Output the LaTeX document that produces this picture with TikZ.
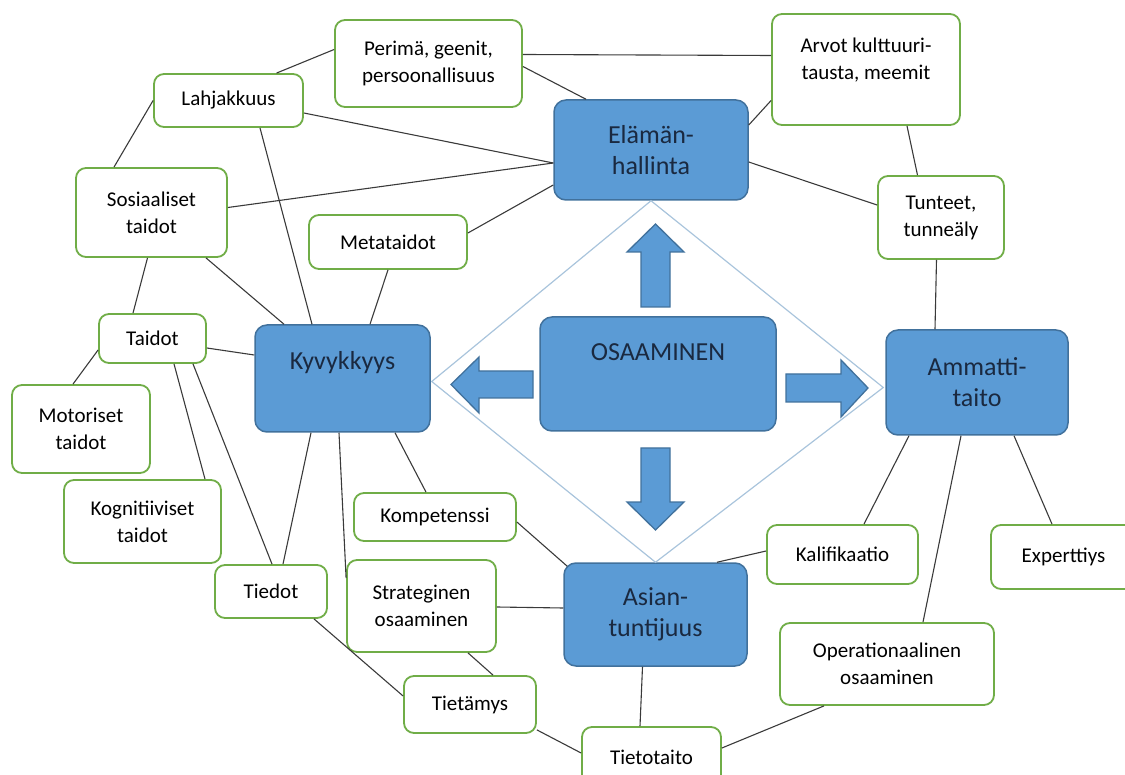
\documentclass[tikz,border=0pt]{standalone}
\usepackage{fontspec}
\setmainfont{Carlito}
\usepackage{tikz}
\usetikzlibrary{calc}
\definecolor{boxgreen}{HTML}{70AD47}
\definecolor{boxblue}{HTML}{5B9BD5}
\definecolor{boxedge}{HTML}{41719C}
\definecolor{rimblue}{HTML}{A9C4DC}
\definecolor{linkgray}{HTML}{3A3A3A}
\definecolor{bluetext}{HTML}{1A2940}

\begin{document}
\begin{tikzpicture}[x=1pt,y=-1pt,
    gbox/.style={draw=boxgreen,line width=1.8pt,fill=white,rounded corners=10pt,inner sep=0pt,align=center,font=\fontsize{21}{27}\selectfont},
    bbox/.style={draw=boxedge,line width=1.5pt,fill=boxblue,rounded corners=12pt,inner sep=0pt,align=center,text=bluetext,font=\fontsize{26}{31}\selectfont},
    link/.style={draw=linkgray,line width=1.1pt},
    rim/.style={draw=rimblue,line width=1.2pt},
    blockarrow/.style={draw=boxedge,line width=1.3pt,fill=boxblue,line join=miter}]
    \useasboundingbox (0,0) rectangle (1125,775);
    \clip (0,0) rectangle (1125,775);

    \node[bbox,minimum width=194,minimum height=100] (Elama) at (651,150) {Elämän-\\hallinta};
    \node[bbox,minimum width=175,minimum height=107,text height=17,text depth=35] (Kyvy) at (342.5,378.5) {Kyvykkyys};
    \node[bbox,minimum width=236,minimum height=114,text height=17,text depth=43] (Osaa) at (658,374) {OSAAMINEN};
    \node[bbox,minimum width=182,minimum height=105] (Ammatti) at (977,382.5) {Ammatti-\\taito};
    \node[bbox,minimum width=183,minimum height=103] (Asian) at (655.5,614.5) {Asian-\\tuntijuus};

    \node[gbox,minimum width=187,minimum height=87] (Perima) at (428.5,63.5) {Perimä, geenit,\\persoonallisuus};
    \node[gbox,minimum width=149,minimum height=53] (Lahja) at (228.5,100.5) {Lahjakkuus};
    \node[gbox,minimum width=188,minimum height=111] (Arvot) at (866,69.5) {Arvot kulttuuri-\\tausta, meemit\\[-5pt]~};
    \node[gbox,minimum width=151,minimum height=89] (Sosi) at (151.5,212.5) {Sosiaaliset\\taidot};
    \node[gbox,minimum width=158,minimum height=54] (Meta) at (388,242) {Metataidot};
    \node[gbox,minimum width=126,minimum height=83] (Tunteet) at (941,217.5) {Tunteet,\\tunneäly};
    \node[gbox,minimum width=107,minimum height=49] (Taidot) at (152.5,338.5) {Taidot};
    \node[gbox,minimum width=138,minimum height=88] (Motor) at (81,429) {Motoriset\\taidot};
    \node[gbox,minimum width=157,minimum height=83] (Kogn) at (142.5,521.5) {Kognitiiviset\\taidot};
    \node[gbox,minimum width=112,minimum height=53] (Tiedot) at (271,591.5) {Tiedot};
    \node[gbox,minimum width=162,minimum height=48] (Kompet) at (435,517) {Kompetenssi};
    \node[gbox,minimum width=149,minimum height=92] (Strat) at (421.5,606) {Strateginen\\osaaminen};
    \node[gbox,minimum width=132,minimum height=57] (Tietamys) at (470,704.5) {Tietämys};
    \node[gbox,minimum width=151,minimum height=59] (Kalif) at (842.5,554.5) {Kalifikaatio};
    \node[gbox,minimum width=145,minimum height=64] (Expert) at (1063.5,557) {Experttiys};
    \node[gbox,minimum width=214,minimum height=82] (Oper) at (887,664) {Operationaalinen\\osaaminen};
    \node[gbox,minimum width=139,minimum height=60] (Tietotaito) at (651.5,757) {Tietotaito};

    \draw[rim] (Elama.south) -- ($(Kyvy.east)+(1,3)$) -- (Asian.north) -- ($(Ammatti.west)+(-2,5)$) -- cycle;

    \draw[blockarrow] (641,307) -- (641,252) -- (627,252) -- (655.5,224) -- (684,252) -- (670,252) -- (670,307) -- cycle;
    \draw[blockarrow] (641,448) -- (641,502) -- (627,502) -- (655.5,530) -- (684,502) -- (670,502) -- (670,448) -- cycle;
    \draw[blockarrow] (533,371) -- (479,371) -- (479,357) -- (451,384.5) -- (479,413) -- (479,398) -- (533,398) -- cycle;
    \draw[blockarrow] (786,374) -- (841,374) -- (841,360) -- (868,388) -- (841,417) -- (841,402) -- (786,402) -- cycle;

    \draw[link] ($(Perima.west)+(0,-14)$) -- ($(Lahja.north)+(48,0)$);
    \draw[link] ($(Perima.east)+(0,-9)$) -- ($(Arvot.west)+(0,-14)$);
    \draw[link] ($(Perima.east)+(0,3)$) -- ($(Elama.north)+(-65,0)$);
    \draw[link] ($(Lahja.east)+(0,12.5)$) -- ($(Elama.west)+(0,13)$);
    \draw[link] (Lahja.west) -- ($(Sosi.north)+(-37.5,0)$);
    \draw[link] ($(Lahja.south)+(31.5,0)$) -- ($(Kyvy.north)+(-30.5,0)$);
    \draw[link] ($(Sosi.east)+(0,-5)$) -- ($(Elama.west)+(0,13)$);
    \draw[link] ($(Meta.east)+(0,-9)$) -- ($(Elama.west)+(0,35)$);
    \draw[link] ($(Arvot.west)+(0,31)$) -- ($(Elama.east)+(0,-25)$);
    \draw[link] ($(Arvot.south)+(41,0)$) -- ($(Tunteet.north)+(-23.5,0)$);
    \draw[link] ($(Elama.east)+(0,12)$) -- ($(Tunteet.west)+(0,-12.5)$);
    \draw[link] ($(Tunteet.south)+(-4.5,0)$) -- ($(Ammatti.north)+(-42,0)$);
    \draw[link] ($(Sosi.south)+(54.5,0)$) -- ($(Kyvy.north)+(-58.5,0)$);
    \draw[link] ($(Sosi.south)+(-4,0)$) -- ($(Taidot.north)+(-19.5,0)$);
    \draw[link] (Meta.south) -- ($(Kyvy.north)+(27.5,0)$);
    \draw[link] ($(Taidot.east)+(0,9.5)$) -- ($(Kyvy.west)+(0,-23.5)$);
    \draw[link] ($(Taidot.west)+(0,11.5)$) -- ($(Motor.north)+(-8,0)$);
    \draw[link] ($(Taidot.south)+(21.5,0)$) -- ($(Kogn.north)+(62.5,0)$);
    \draw[link] ($(Taidot.south)+(40.5,0)$) -- ($(Tiedot.north)+(1,0)$);
    \draw[link] ($(Kyvy.south)+(-31.5,0)$) -- ($(Tiedot.north)+(12,0)$);
    \draw[link] ($(Kyvy.south)+(-3.5,0)$) -- ($(Strat.west)+(0,-28)$);
    \draw[link] ($(Kyvy.south)+(52.5,0)$) -- ($(Kompet.north)+(-9,0)$);
    \draw[link] ($(Kompet.east)+(0,5)$) -- ($(Asian.north west)+(4,4)$);
    \draw[link] ($(Strat.east)+(0,1)$) -- ($(Asian.west)+(0,-6.5)$);
    \draw[link] ($(Strat.south)+(46.5,0)$) -- ($(Tietamys.north)+(23,0)$);
    \draw[link] ($(Tiedot.south)+(43,0)$) -- ($(Tietamys.west)+(0,-8.5)$);
    \draw[link] ($(Tietamys.south east)+(0,-4)$) -- ($(Tietotaito.west)+(0,-4)$);
    \draw[link] ($(Asian.south)+(-13,0)$) -- ($(Tietotaito.north)+(-11.5,0)$);
    \draw[link] ($(Asian.north)+(61.5,0)$) -- ($(Kalif.west)+(0,-3.5)$);
    \draw[link] ($(Ammatti.south)+(-68,0)$) -- ($(Kalif.north)+(21.5,0)$);
    \draw[link] ($(Ammatti.south)+(-16,0)$) -- ($(Oper.north)+(36,0)$);
    \draw[link] ($(Ammatti.south)+(37,0)$) -- ($(Expert.north)+(-11.5,0)$);
    \draw[link] ($(Oper.south)+(-63,0)$) -- ($(Tietotaito.east)+(0,-9)$);
\end{tikzpicture}
\end{document}
